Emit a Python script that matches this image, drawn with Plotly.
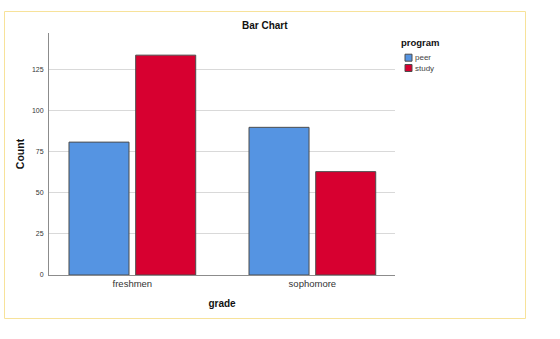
import plotly.graph_objects as go

grades = ["freshmen", "sophomore"]
programs = ["peer", "study"]
peer_counts = [81, 90]
study_counts = [134, 63]
colors = {"peer": "#5594e2", "study": "#d70030"}

W, H = 560, 339
L, R, T, B = 49, 165, 33, 64
pw, ph = W - L - R, H - T - B

def px_x(x):
    return (x - L) / pw

def px_y(y):
    return (H - B - y) / ph

FONT = "Liberation Sans, Arial, sans-serif"

fig = go.Figure()
for name, vals in zip(programs, [peer_counts, study_counts]):
    fig.add_trace(go.Bar(
        x=grades, y=vals, name=name,
        marker=dict(color=colors[name], line=dict(color="#4d4d4d", width=1)),
    ))

shapes = [dict(type="rect", xref="paper", yref="paper",
               x0=px_x(4.5), x1=px_x(525.5), y0=px_y(318.5), y1=px_y(11.5),
               line=dict(color="#f7e29a", width=1), layer="below")]
annotations = [
    dict(text="<b>Bar Chart</b>", xref="paper", yref="paper",
         x=px_x(265), y=px_y(25), xanchor="center", yanchor="middle",
         showarrow=False, font=dict(size=10, color="#111111", family=FONT)),
    dict(text="<b>program</b>", xref="paper", yref="paper",
         x=px_x(399), y=px_y(42.5), xanchor="left", yanchor="middle",
         showarrow=False, font=dict(size=9.5, color="#111111", family=FONT)),
]
# legend built from the program list
for i, name in enumerate(programs):
    yc = 57.7 + i * 10.3
    shapes.append(dict(type="rect", xref="paper", yref="paper",
                       x0=px_x(405), x1=px_x(412), y0=px_y(yc + 3.5), y1=px_y(yc - 3.5),
                       fillcolor=colors[name], line=dict(color="#4d4d4d", width=1)))
    annotations.append(dict(text=name, xref="paper", yref="paper",
                            x=px_x(413), y=px_y(yc), xanchor="left", yanchor="middle",
                            showarrow=False,
                            font=dict(size=8, color="#444444", family=FONT)))

fig.update_layout(
    width=W, height=H,
    margin=dict(l=L, r=R, t=T, b=B),
    paper_bgcolor="white", plot_bgcolor="white",
    barmode="group", bargap=0.259, bargroupgap=0.1,
    font=dict(family=FONT, color="#333333"),
    showlegend=False,
    xaxis=dict(
        range=[-0.463, 1.459], showline=True, linecolor="#8c8c8c", linewidth=1,
        showgrid=False, ticks="", tickfont=dict(size=9.5, color="#333333"),
        title=dict(text="<b>grade</b>", font=dict(size=10, color="#111111"), standoff=11),
    ),
    yaxis=dict(
        range=[0, 147.5], showline=True, linecolor="#8c8c8c", linewidth=1,
        showgrid=True, gridcolor="#d9d9d9", gridwidth=1,
        tickvals=[0, 25, 50, 75, 100, 125], ticks="", ticklabelstandoff=3,
        tickfont=dict(size=7, color="#333333"), zeroline=False,
        title=dict(text="<b>Count</b>", font=dict(size=10.5, color="#111111"), standoff=5),
    ),
    shapes=shapes,
    annotations=annotations,
)

fig.write_html("out.html")
